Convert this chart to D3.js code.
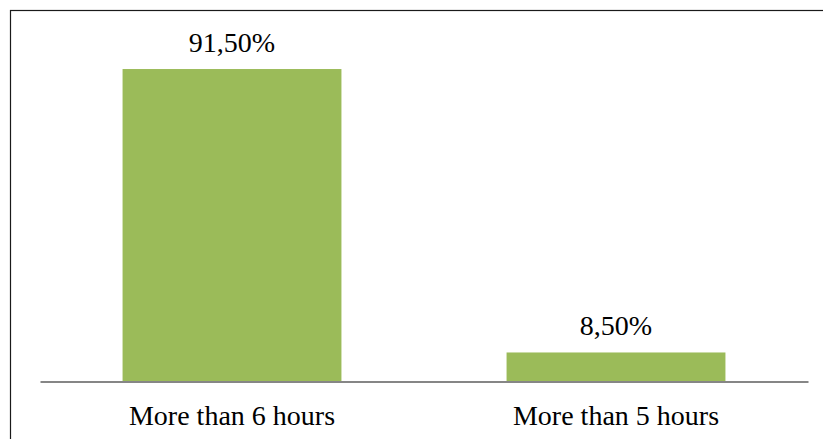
<!DOCTYPE html>
<html>
<head>
<meta charset="utf-8">
<script src="https://cdn.jsdelivr.net/npm/d3@7"></script>
<style>
  body { margin: 0; background: #fff; }
</style>
</head>
<body>
<div class="container"></div>
<script>
var categories = ['More than 6 hours', 'More than 5 hours'];
var values = [91.5, 8.5];
var valueLabels = ['91,50%', '8,50%'];

var w = 823;
var h = 439;

var svg = d3.select('.container')
  .append('svg')
  .attr('width', w)
  .attr('height', h);

/* ===== FRAME ===== */
svg.append('rect')
  .attr('x', 10.5)
  .attr('y', 10.5)
  .attr('width', w + 10)
  .attr('height', h + 10)
  .attr('fill', 'none')
  .attr('stroke', '#1a1a1a')
  .attr('stroke-width', 1.2);

/* ===== SCALES ===== */
var plotLeft = 40, plotRight = 808;
var baseY = 381.5;

var xScale = d3.scaleBand()
  .domain(categories)
  .range([plotLeft, plotRight])
  .paddingInner(0.43)
  .paddingOuter(0.215);

var yScale = d3.scaleLinear()
  .domain([0, 100])
  .range([baseY, baseY - 341.5]);

/* ===== BARS ===== */
var data = categories.map(function(c, i) {
  return { cat: c, value: values[i], label: valueLabels[i] };
});

svg.selectAll('rect.bar')
  .data(data)
  .enter()
  .append('rect')
  .attr('class', 'bar')
  .attr('x', function(d) { return xScale(d.cat); })
  .attr('width', xScale.bandwidth())
  .attr('y', function(d) { return yScale(d.value); })
  .attr('height', function(d) { return baseY - yScale(d.value); })
  .attr('fill', '#9bbb59');

/* ===== AXIS ===== */
var xAxis = d3.axisBottom(xScale).tickSize(0).tickPadding(24);

var axisG = svg.append('g')
  .attr('transform', 'translate(0,' + baseY + ')')
  .call(xAxis);

axisG.select('.domain')
  .attr('stroke', '#868686')
  .attr('stroke-width', 2);

axisG.selectAll('text')
  .attr('font-family', '"Liberation Serif", serif')
  .attr('font-size', '28px')
  .attr('fill', '#000');

/* ===== VALUE LABELS ===== */
svg.selectAll('text.val')
  .data(data)
  .enter()
  .append('text')
  .attr('class', 'val')
  .attr('x', function(d) { return xScale(d.cat) + xScale.bandwidth() / 2; })
  .attr('y', function(d) { return yScale(d.value) - 17; })
  .attr('text-anchor', 'middle')
  .attr('font-family', '"Liberation Serif", serif')
  .attr('font-size', '28px')
  .attr('fill', '#000')
  .text(function(d) { return d.label; });
</script>
</body>
</html>
